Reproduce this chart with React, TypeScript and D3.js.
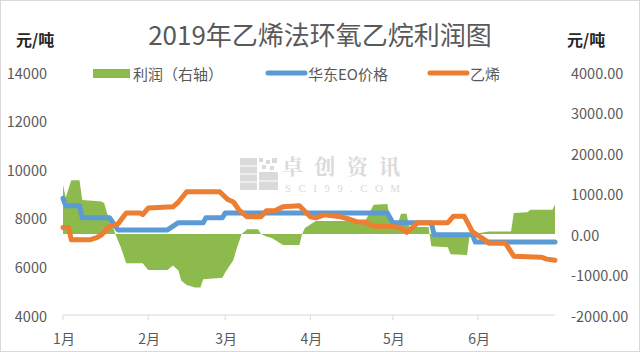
import React from 'react';
import * as d3 from 'd3';

// month labels on the x axis
const months = ['1月', '2月', '3月', '4月', '5月', '6月'];
const leftTicks = [4000, 6000, 8000, 10000, 12000, 14000];
const rightTicks = [-2000, -1000, 0, 1000, 2000, 3000, 4000];

// 利润（右轴）, 元/吨
const profit: [string, number][] = [
  ['01-01', 1210], ['01-02', 900], ['01-04', 1330], ['01-07', 1330], ['01-08', 840],
  ['01-15', 800], ['01-16', 760], ['01-17', 520], ['01-19', 220], ['01-20', 0],
  ['01-22', -320], ['01-24', -720], ['01-30', -720], ['02-01', -890], ['02-08', -890],
  ['02-10', -780], ['02-12', -900], ['02-13', -1150], ['02-15', -1260], ['02-18', -1320],
  ['02-20', -1320], ['02-21', -1120], ['02-28', -1080], ['03-01', -950], ['03-04', -640],
  ['03-05', -400], ['03-07', 0], ['03-09', 120], ['03-13', 120], ['03-14', 0],
  ['03-16', -60], ['03-18', -100], ['03-22', -270], ['03-28', -270], ['03-29', 0],
  ['03-30', 150], ['04-03', 320], ['04-21', 320], ['04-24', 720], ['04-29', 740],
  ['04-30', 350], ['05-03', 300], ['05-04', 500], ['05-06', 500], ['05-07', 170],
  ['05-14', 170], ['05-15', -300], ['05-21', -330], ['05-22', -500], ['05-28', -520],
  ['05-29', 0], ['06-01', 20], ['06-05', 60], ['06-13', 60], ['06-14', 520],
  ['06-19', 540], ['06-20', 600], ['06-28', 600], ['06-29', 720],
];

// 华东EO价格
const eoPrice: [string, number][] = [
  ['01-01', 8800], ['01-02', 8500], ['01-07', 8500], ['01-08', 8000], ['01-18', 8000],
  ['01-21', 7500], ['02-08', 7500], ['02-12', 7800], ['02-21', 7800], ['02-22', 8000],
  ['02-28', 8000], ['03-01', 8200], ['04-29', 8200], ['05-01', 7800], ['05-15', 7800],
  ['05-16', 7300], ['05-30', 7300], ['05-31', 7000], ['06-29', 7000],
];

// 乙烯
const ethylene: [string, number][] = [
  ['01-01', 7600], ['01-03', 7600], ['01-04', 7100], ['01-11', 7100], ['01-13', 7170],
  ['01-15', 7300], ['01-18', 7650], ['01-21', 7750], ['01-24', 8200], ['01-29', 8200],
  ['01-30', 8130], ['02-01', 8400], ['02-10', 8450], ['02-12', 8650], ['02-15', 9070],
  ['02-27', 9070], ['03-02', 8750], ['03-04', 8650], ['03-06', 8330], ['03-09', 8040],
  ['03-14', 8040], ['03-16', 8290], ['03-19', 8290], ['03-22', 8450], ['03-28', 8500],
  ['04-01', 8040], ['04-03', 8000], ['04-06', 8120], ['04-12', 8040], ['04-15', 7950],
  ['04-18', 7830], ['04-21', 7830], ['04-24', 7650], ['05-01', 7650], ['05-04', 7580],
  ['05-06', 7400], ['05-08', 7580], ['05-10', 7800], ['05-21', 7800], ['05-23', 8060],
  ['05-27', 8060], ['05-30', 7420], ['06-04', 7050], ['06-05', 6950], ['06-11', 6950],
  ['06-14', 6420], ['06-24', 6380], ['06-26', 6300], ['06-29', 6250],
];

const toDate = (s: string) => {
  const [m, d] = s.split('-').map(Number);
  return new Date(2019, m - 1, d);
};

const GREEN = '#8dba4c';
const BLUE = '#5b9bd5';
const ORANGE = '#ed7d31';
const TEXT = '#595959';
const FONT = '"Noto Sans CJK SC", "Liberation Sans", sans-serif';

export default function App() {
  const width = 640;
  const height = 352;

  const x = d3.scaleTime()
    .domain([new Date(2019, 0, 1), new Date(2019, 5, 29)])
    .range([63, 555]);
  const yL = d3.scaleLinear().domain([4000, 14000]).range([315, 72]);
  const yR = d3.scaleLinear().domain([-2000, 4000]).range([315, 72]);

  const area = d3.area<[string, number]>()
    .x(d => x(toDate(d[0])))
    .y0(yR(0))
    .y1(d => yR(d[1]));
  const line = d3.line<[string, number]>()
    .x(d => x(toDate(d[0])))
    .y(d => yL(d[1]));

  const monthTicks = months.map((m, i) => ({ label: m, pos: x(new Date(2019, i, 1)) }));

  return (
    <div>
      <style>{'body{margin:0}'}</style>
      <svg width={width} height={height} style={{ display: 'block', fontFamily: FONT }}>
        <rect x={0} y={0} width={width} height={height} fill="#fff" />
        <rect x={0.5} y={0.5} width={width - 1} height={height - 1} fill="none" stroke="#d9d9d9" />

        {/* title */}
        <text x={320} y={33} textAnchor="middle" dominantBaseline="central" fontSize={26} fill={TEXT}>
          2019年乙烯法环氧乙烷利润图
        </text>
        <text x={16} y={39} dominantBaseline="central" fontSize={16} fontWeight="bold" fill="#262626">元/吨</text>
        <text x={567} y={39} dominantBaseline="central" fontSize={16} fontWeight="bold" fill="#262626">元/吨</text>

        {/* watermark */}
        <g fill="#d6d6d6" opacity={0.9}>
          <rect x={240} y={158} width={17} height={32} />
          <rect x={259} y={172} width={19} height={18} />
          <rect x={259} y={158} width={4} height={4} />
          <rect x={266} y={160} width={4} height={4} />
          <rect x={272} y={158} width={5} height={5} />
          <rect x={262} y={165} width={4} height={4} />
          <rect x={270} y={166} width={4} height={4} />
          <text x={282} y={174} fontSize={21} fontWeight="bold" textLength={118}
            fontFamily='"Noto Serif CJK SC", "Noto Sans CJK SC", serif'>卓创资讯</text>
          <text x={285} y={191.5} fontSize={11} textLength={115}
            fontFamily='"Liberation Serif", "DejaVu Serif", serif'>SCI99.COM</text>
        </g>
        <g stroke="#fff" strokeWidth={1}>
          <line x1={240} x2={257} y1={166} y2={166} />
          <line x1={240} x2={257} y1={174} y2={174} />
          <line x1={240} x2={257} y1={182} y2={182} />
          <line x1={259} x2={278} y1={181} y2={181} />
        </g>

        {/* axes */}
        <line x1={63} x2={555} y1={315} y2={315} stroke="#d9d9d9" strokeWidth={1} />
        {monthTicks.map(t => (
          <g key={t.label}>
            <line x1={t.pos} x2={t.pos} y1={315} y2={320} stroke="#d9d9d9" />
            <text x={t.pos + 1} y={338} textAnchor="middle" dominantBaseline="central" fontSize={14} fill={TEXT}>{t.label}</text>
          </g>
        ))}
        {leftTicks.map(v => (
          <text key={v} x={47} y={yL(v)} textAnchor="end" dominantBaseline="central" fontSize={14.5} fill={TEXT}>{v}</text>
        ))}
        {rightTicks.map(v => (
          <text key={v} x={571} y={yR(v)} dominantBaseline="central" fontSize={14.5} fill={TEXT}>{v.toFixed(2)}</text>
        ))}

        {/* series */}
        <path d={area(profit) || ''} fill={GREEN} />
        <path d={line(eoPrice) || ''} fill="none" stroke={BLUE} strokeWidth={5} strokeLinejoin="round" strokeLinecap="round" />
        <path d={line(ethylene) || ''} fill="none" stroke={ORANGE} strokeWidth={5} strokeLinejoin="round" strokeLinecap="round" />

        {/* legend */}
        <rect x={93} y={69} width={37} height={9} fill={GREEN} />
        <text x={133} y={73} dominantBaseline="central" fontSize={15} fill={TEXT}>利润（右轴）</text>
        <line x1={268} x2={305} y1={73} y2={73} stroke={BLUE} strokeWidth={5} strokeLinecap="round" />
        <text x={308} y={73} dominantBaseline="central" fontSize={15} fill={TEXT}>华东EO价格</text>
        <line x1={430} x2={467} y1={73} y2={73} stroke={ORANGE} strokeWidth={5} strokeLinecap="round" />
        <text x={470} y={73} dominantBaseline="central" fontSize={15} fill={TEXT}>乙烯</text>
      </svg>
    </div>
  );
}
